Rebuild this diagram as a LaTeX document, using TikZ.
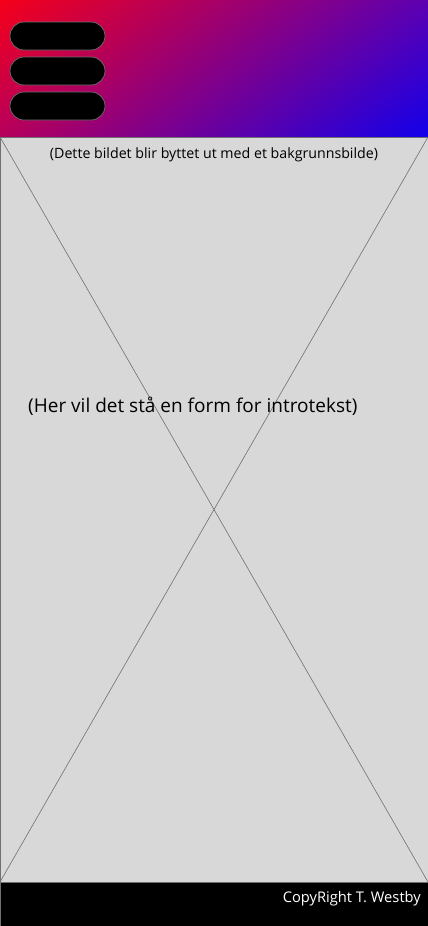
\documentclass[tikz,border=0pt]{standalone}
\usepackage{fontspec}
\setmainfont{Open Sans}
\usepackage{xcolor}
\usepackage{tikz}
\usetikzlibrary{shadings}

\definecolor{hdrred}{RGB}{245,0,25}
\definecolor{hdrblue}{RGB}{18,0,235}
\definecolor{hdrtr}{RGB}{92,0,178}
\definecolor{hdrbl}{RGB}{182,0,92}
\definecolor{placegray}{RGB}{216,216,216}
\definecolor{edgegray}{RGB}{112,112,112}

\tikzset{
    menupill/.style={fill=black, draw=edgegray, rounded corners=14pt, line width=0.7pt},
    smalltext/.style={font=\fontsize{14.2}{16}\selectfont, text=black},
}

\begin{document}
\begin{tikzpicture}[x=1pt, y=-1pt]
    \useasboundingbox (0,0) rectangle (428,926);

    % Header with gradient
    \shade[upper left=hdrred, upper right=hdrtr, lower left=hdrbl, lower right=hdrblue] (0,0) rectangle (428,137);

    % Menu buttons
    \foreach \y in {22, 57, 92} {
        \draw[menupill] (10,\y) rectangle (105,\y+28);
    }

    % Background image placeholder
    \draw[fill=placegray, draw=edgegray, line width=0.8pt] (0,137) rectangle (428,882);
    \coordinate (tl) at (0,137);
    \coordinate (tr) at (428,137);
    \coordinate (bl) at (0,882);
    \coordinate (br) at (428,882);
    \draw[edgegray, line width=0.6pt] (tl) -- (br);
    \draw[edgegray, line width=0.6pt] (tr) -- (bl);

    \node[smalltext, inner sep=0pt] (bgnote) at (214,155) {(Dette bildet blir byttet ut med et bakgrunnsbilde)};
    \node[anchor=west, font=\fontsize{19}{22}\selectfont, inner sep=0pt] (intro) at (28,406) {(Her vil det stå en form for introtekst)};

    % Footer
    \draw[fill=black, draw=edgegray, line width=0.8pt] (0,882) rectangle (428,926);
    \node[anchor=east, text=white, font=\fontsize{14.7}{17}\selectfont, inner sep=0pt] (copy) at (421,899) {CopyRight T. Westby};
\end{tikzpicture}
\end{document}
